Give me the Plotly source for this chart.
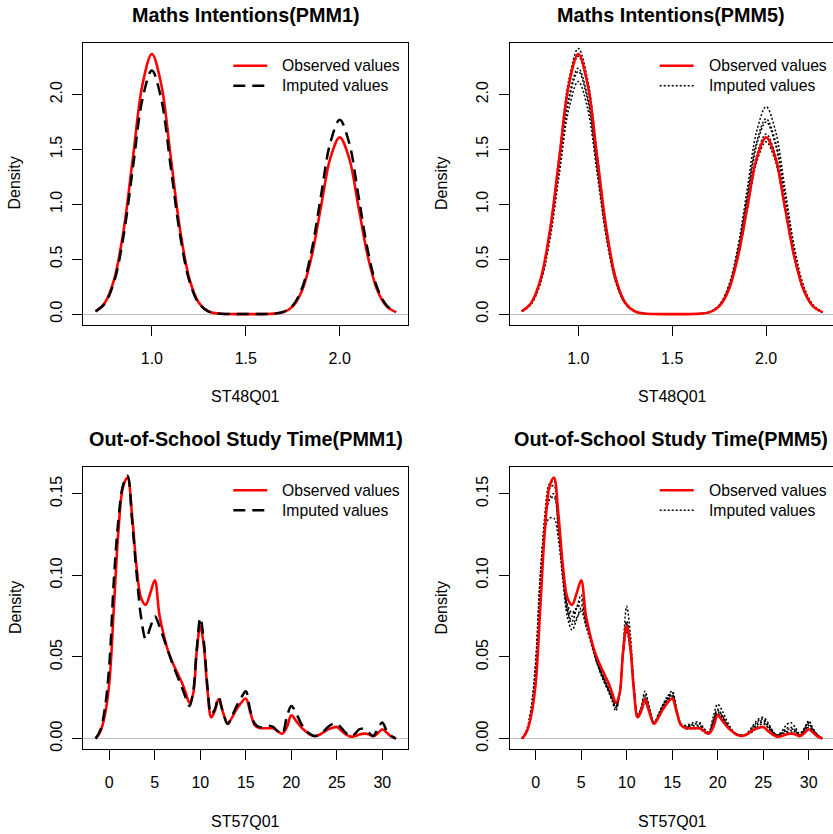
import plotly.graph_objects as go

W, H = 833, 834

# ---------------- ST48Q01 (Maths Intentions) ----------------
st48_x = [0.70, 0.75, 0.80, 0.85, 0.90, 0.95, 1.00, 1.05, 1.10, 1.15, 1.20,
          1.25, 1.30, 1.35, 1.40, 1.45, 1.50, 1.55, 1.60, 1.65, 1.70, 1.75,
          1.80, 1.85, 1.90, 1.95, 2.00, 2.05, 2.10, 2.15, 2.20, 2.25, 2.30]

st48_observed = [0.026, 0.104, 0.321, 0.770, 1.437, 2.092, 2.370, 2.092, 1.437, 0.770, 0.321,
                 0.104, 0.026, 0.005, 0.001, 0.000, 0.000, 0.000, 0.000, 0.004, 0.018, 0.071,
                 0.218, 0.523, 0.976, 1.421, 1.610, 1.421, 0.976, 0.523, 0.218, 0.071, 0.018]

st48_pmm1 = [0.025, 0.097, 0.300, 0.721, 1.346, 1.959, 2.220, 1.959, 1.346, 0.721, 0.300,
             0.097, 0.025, 0.005, 0.001, 0.000, 0.000, 0.000, 0.001, 0.004, 0.020, 0.078,
             0.239, 0.575, 1.074, 1.562, 1.770, 1.562, 1.074, 0.575, 0.239, 0.078, 0.020]

st48_pmm5 = [
    [0.027, 0.106, 0.327, 0.786, 1.468, 2.136, 2.420, 2.136, 1.468, 0.786, 0.327,
     0.106, 0.027, 0.005, 0.001, 0.000, 0.000, 0.000, 0.000, 0.003, 0.017, 0.069,
     0.212, 0.510, 0.952, 1.386, 1.570, 1.386, 0.952, 0.510, 0.212, 0.069, 0.017],
    [0.025, 0.098, 0.303, 0.727, 1.359, 1.977, 2.240, 1.977, 1.359, 0.727, 0.303,
     0.098, 0.025, 0.005, 0.001, 0.000, 0.000, 0.000, 0.001, 0.004, 0.019, 0.077,
     0.237, 0.568, 1.061, 1.544, 1.750, 1.544, 1.061, 0.568, 0.237, 0.077, 0.019],
    [0.024, 0.093, 0.287, 0.688, 1.286, 1.871, 2.120, 1.871, 1.286, 0.688, 0.287,
     0.093, 0.024, 0.005, 0.001, 0.000, 0.000, 0.000, 0.001, 0.004, 0.021, 0.083,
     0.256, 0.614, 1.146, 1.668, 1.890, 1.668, 1.146, 0.614, 0.256, 0.083, 0.021],
    [0.025, 0.097, 0.299, 0.718, 1.340, 1.950, 2.210, 1.950, 1.340, 0.718, 0.299,
     0.097, 0.025, 0.005, 0.001, 0.000, 0.000, 0.000, 0.001, 0.004, 0.020, 0.078,
     0.241, 0.578, 1.080, 1.571, 1.780, 1.571, 1.080, 0.578, 0.241, 0.078, 0.020],
    [0.026, 0.103, 0.318, 0.763, 1.425, 2.074, 2.350, 2.074, 1.425, 0.763, 0.318,
     0.103, 0.026, 0.005, 0.001, 0.000, 0.000, 0.000, 0.000, 0.004, 0.018, 0.072,
     0.222, 0.533, 0.995, 1.447, 1.640, 1.447, 0.995, 0.533, 0.222, 0.072, 0.018],
]

# ---------------- ST57Q01 (Out-of-School Study Time) ----------------
st57_x = [-1.5, -1.0, -0.5, 0.0, 0.5, 1.0, 1.5, 2.0, 2.5, 3.0,
          3.5, 4.0, 4.5, 5.0, 5.5, 6.0, 6.5, 7.0, 7.5, 8.0,
          8.4, 8.8, 9.2, 9.6, 10.0, 10.4, 10.8, 11.2, 11.6, 12.0,
          12.5, 13.0, 13.5, 14.0, 14.5, 15.0, 15.5, 16.0, 16.5, 17.0,
          17.5, 18.0, 18.5, 19.0, 19.5, 20.0, 20.5, 21.0, 21.5, 22.0,
          22.5, 23.0, 23.5, 24.0, 24.5, 25.0, 25.5, 26.0, 26.5, 27.0,
          27.5, 28.0, 28.5, 29.0, 29.5, 30.0, 30.5, 31.0, 31.5]

st57_observed = [0.000, 0.004, 0.014, 0.034, 0.080, 0.127, 0.154, 0.160, 0.137, 0.105,
                 0.086, 0.082, 0.089, 0.097, 0.076, 0.063, 0.053, 0.046, 0.040, 0.034,
                 0.028, 0.022, 0.027, 0.053, 0.069, 0.056, 0.029, 0.013, 0.017, 0.024,
                 0.016, 0.009, 0.013, 0.018, 0.022, 0.0245, 0.016, 0.008, 0.0065, 0.0063,
                 0.0063, 0.0063, 0.0045, 0.003, 0.0068, 0.0142, 0.011, 0.0075, 0.0048, 0.0025,
                 0.0016, 0.002, 0.0037, 0.0055, 0.0065, 0.0071, 0.0048, 0.0025, 0.0012, 0.0015,
                 0.0025, 0.003, 0.0027, 0.0015, 0.0032, 0.0057, 0.0035, 0.0012, 0.000]

st57_pmm1 = [0.000, 0.005, 0.018, 0.045, 0.097, 0.134, 0.155, 0.161, 0.134, 0.101,
             0.074, 0.061, 0.068, 0.075, 0.069, 0.061, 0.053, 0.045, 0.038, 0.031,
             0.025, 0.020, 0.028, 0.054, 0.074, 0.059, 0.031, 0.015, 0.018, 0.0255,
             0.016, 0.009, 0.014, 0.020, 0.025, 0.029, 0.017, 0.009, 0.007, 0.0075,
             0.0078, 0.0071, 0.0045, 0.003, 0.013, 0.020, 0.016, 0.010, 0.0055, 0.003,
             0.0016, 0.002, 0.004, 0.007, 0.0088, 0.0092, 0.0065, 0.0035, 0.0015, 0.003,
             0.0058, 0.0058, 0.0037, 0.0015, 0.006, 0.0098, 0.0045, 0.0015, 0.000]

st57_pmm5 = [
    [0.000, 0.005, 0.018, 0.045, 0.098, 0.132, 0.146, 0.148, 0.126, 0.096,
     0.074, 0.0665, 0.073, 0.080, 0.070, 0.060, 0.050, 0.042, 0.035, 0.029,
     0.023, 0.017, 0.026, 0.056, 0.081, 0.064, 0.033, 0.015, 0.019, 0.029,
     0.019, 0.010, 0.015, 0.021, 0.026, 0.029, 0.018, 0.009, 0.008, 0.009,
     0.010, 0.010, 0.006, 0.004, 0.013, 0.021, 0.017, 0.011, 0.006, 0.003,
     0.002, 0.002, 0.005, 0.009, 0.012, 0.013, 0.010, 0.005, 0.002, 0.004,
     0.008, 0.0098, 0.007, 0.003, 0.006, 0.0108, 0.006, 0.002, 0.000],
    [0.000, 0.005, 0.019, 0.048, 0.100, 0.128, 0.135, 0.135, 0.122, 0.099,
     0.080, 0.075, 0.080, 0.085, 0.072, 0.062, 0.052, 0.043, 0.036, 0.030,
     0.025, 0.020, 0.027, 0.052, 0.068, 0.055, 0.030, 0.014, 0.018, 0.025,
     0.017, 0.009, 0.014, 0.020, 0.024, 0.027, 0.017, 0.008, 0.007, 0.008,
     0.008, 0.008, 0.005, 0.003, 0.010, 0.017, 0.014, 0.009, 0.005, 0.003,
     0.002, 0.002, 0.004, 0.007, 0.010, 0.011, 0.008, 0.004, 0.002, 0.003,
     0.005, 0.006, 0.005, 0.002, 0.005, 0.009, 0.005, 0.002, 0.000],
    [0.000, 0.004, 0.016, 0.042, 0.093, 0.135, 0.153, 0.155, 0.132, 0.100,
     0.078, 0.072, 0.080, 0.088, 0.074, 0.062, 0.051, 0.043, 0.037, 0.031,
     0.026, 0.021, 0.027, 0.053, 0.070, 0.056, 0.030, 0.013, 0.016, 0.022,
     0.016, 0.009, 0.014, 0.020, 0.024, 0.026, 0.016, 0.008, 0.007, 0.007,
     0.007, 0.007, 0.005, 0.003, 0.009, 0.015, 0.012, 0.008, 0.005, 0.003,
     0.002, 0.002, 0.004, 0.006, 0.009, 0.010, 0.007, 0.004, 0.002, 0.003,
     0.004, 0.005, 0.004, 0.002, 0.004, 0.008, 0.005, 0.002, 0.000],
    [0.000, 0.005, 0.017, 0.044, 0.096, 0.131, 0.147, 0.150, 0.130, 0.101,
     0.082, 0.077, 0.080, 0.082, 0.071, 0.061, 0.051, 0.042, 0.035, 0.029,
     0.024, 0.019, 0.026, 0.051, 0.066, 0.053, 0.029, 0.014, 0.019, 0.027,
     0.018, 0.010, 0.014, 0.019, 0.023, 0.025, 0.016, 0.008, 0.007, 0.008,
     0.009, 0.009, 0.006, 0.003, 0.011, 0.018, 0.014, 0.009, 0.005, 0.003,
     0.002, 0.002, 0.004, 0.008, 0.011, 0.012, 0.009, 0.005, 0.002, 0.003,
     0.006, 0.007, 0.005, 0.002, 0.006, 0.010, 0.005, 0.002, 0.000],
    [0.000, 0.004, 0.015, 0.040, 0.090, 0.136, 0.156, 0.158, 0.135, 0.103,
     0.078, 0.070, 0.074, 0.078, 0.070, 0.061, 0.052, 0.044, 0.037, 0.030,
     0.024, 0.019, 0.027, 0.055, 0.072, 0.058, 0.031, 0.014, 0.017, 0.024,
     0.016, 0.009, 0.015, 0.021, 0.025, 0.028, 0.017, 0.008, 0.006, 0.006,
     0.006, 0.006, 0.004, 0.003, 0.009, 0.016, 0.013, 0.008, 0.005, 0.003,
     0.002, 0.002, 0.003, 0.005, 0.008, 0.009, 0.007, 0.004, 0.002, 0.002,
     0.003, 0.004, 0.003, 0.002, 0.004, 0.007, 0.004, 0.002, 0.000],
]

titles = ["Maths Intentions(PMM1)", "Maths Intentions(PMM5)",
          "Out-of-School Study Time(PMM1)", "Out-of-School Study Time(PMM5)"]
xlabels = ["ST48Q01", "ST48Q01", "ST57Q01", "ST57Q01"]
legend_labels = ["Observed values", "Imputed values"]

st48_ticks = [1.0, 1.5, 2.0]
st48_yticks = [0.0, 0.5, 1.0, 1.5, 2.0]
st57_ticks = [0, 5, 10, 15, 20, 25, 30]
st57_yticks = [0.00, 0.05, 0.10, 0.15]

FONT = "Liberation Sans, Arial, Helvetica, sans-serif"
RED = "#ff0000"
DASHED = "12px,7px"
DOTTED = "2px,2px"

# ---------------- panel geometry (pixels) ----------------
COL_LEFT = [83.3, 509.7]
ROW_TOP = [42.7, 468.7]
BOX_W, BOX_H = 325.0, 283.0


def px_x(p):
    return p / W


def px_y(p):
    return 1 - p / H


fig = go.Figure()

panels = [
    dict(x=st48_x, obs=st48_observed, imps=[st48_pmm1], dash=DASHED, width=2.5,
         xr=(0.635, 2.365), yr=(-0.095, 2.474), xt=st48_ticks, yt=st48_yticks,
         xfmt=".1f", yfmt=".1f"),
    dict(x=st48_x, obs=st48_observed, imps=st48_pmm5, dash=DOTTED, width=1.5,
         xr=(0.635, 2.365), yr=(-0.095, 2.474), xt=st48_ticks, yt=st48_yticks,
         xfmt=".1f", yfmt=".1f"),
    dict(x=st57_x, obs=st57_observed, imps=[st57_pmm1], dash=DASHED, width=2.5,
         xr=(-2.857, 32.857), yr=(-0.0064, 0.1664), xt=st57_ticks, yt=st57_yticks,
         xfmt="d", yfmt=".2f"),
    dict(x=st57_x, obs=st57_observed, imps=st57_pmm5, dash=DOTTED, width=1.5,
         xr=(-2.857, 32.857), yr=(-0.0064, 0.1664), xt=st57_ticks, yt=st57_yticks,
         xfmt="d", yfmt=".2f"),
]

layout = dict(
    width=W, height=H, margin=dict(l=0, r=0, t=0, b=0),
    paper_bgcolor="white", plot_bgcolor="white",
    font=dict(family=FONT, size=16, color="black"),
    showlegend=False,
    annotations=[], shapes=[],
)

for i, p in enumerate(panels):
    row, col = divmod(i, 2)
    n = "" if i == 0 else str(i + 1)
    xa, ya = "x" + n, "y" + n

    left = COL_LEFT[col]
    top = ROW_TOP[row]
    right = min(left + BOX_W, W)
    bottom = top + BOX_H
    # keep the same data-per-pixel scale when the frame runs past the page edge
    x0, x1 = p["xr"]
    x1 = x0 + (x1 - x0) * (right - left) / BOX_W
    clipped = right < left + BOX_W

    obs_trace = go.Scatter(
        x=p["x"], y=p["obs"], mode="lines", name=legend_labels[0],
        line=dict(color=RED, width=2.6, shape="spline"),
        xaxis=xa, yaxis=ya, hoverinfo="skip",
    )
    imp_traces = [
        go.Scatter(
            x=p["x"], y=ys, mode="lines", name=legend_labels[1],
            line=dict(color="black", width=p["width"], dash=p["dash"], shape="spline"),
            xaxis=xa, yaxis=ya, hoverinfo="skip",
        )
        for ys in p["imps"]
    ]
    if len(p["imps"]) == 1:
        fig.add_trace(obs_trace)
        for t in imp_traces:
            fig.add_trace(t)
    else:
        for t in imp_traces:
            fig.add_trace(t)
        fig.add_trace(obs_trace)

    axis_common = dict(
        showgrid=False, ticks="outside", ticklen=10, tickwidth=1, tickcolor="black",
        showline=True, linecolor="black", linewidth=1,
        tickfont=dict(family=FONT, size=16, color="black"),
        fixedrange=True,
    )
    layout["xaxis" + n] = dict(
        axis_common, domain=[px_x(left), px_x(right)], range=[x0, x1],
        anchor=ya, tickvals=p["xt"], tickformat=p["xfmt"],
        zeroline=False, mirror=True, ticklabelstandoff=9,
    )
    layout["yaxis" + n] = dict(
        axis_common, domain=[px_y(bottom), px_y(top)], range=list(p["yr"]),
        anchor=xa, tickvals=p["yt"], tickformat=p["yfmt"], tickangle=-90,
        zeroline=True, zerolinecolor="#bebebe", zerolinewidth=1,
        mirror=(not clipped), ticklabelstandoff=4,
    )

    # legend key (top right, no frame)
    key_styles = [
        dict(color=RED, width=2.6),
        dict(color="black", width=p["width"], dash=p["dash"]),
    ]
    for k, (lab, st) in enumerate(zip(legend_labels, key_styles)):
        ky = top + 23.3 + 20 * k
        layout["shapes"].append(dict(
            type="line", xref="paper", yref="paper",
            x0=px_x(left + 150), x1=px_x(left + 184), y0=px_y(ky), y1=px_y(ky),
            line=st,
        ))
        layout["annotations"].append(dict(
            text=lab, x=px_x(left + 197), y=px_y(ky), xref="paper", yref="paper",
            xanchor="left", yanchor="middle", showarrow=False,
            font=dict(family=FONT, size=15.7, color="black"),
        ))

    cx = left + BOX_W / 2 - (1.5 if col == 1 else 0)
    layout["annotations"] += [
        dict(text="<b>" + titles[i] + "</b>", x=px_x(cx), y=px_y(top - 27.7),
             xref="paper", yref="paper", xanchor="center", yanchor="middle",
             showarrow=False, font=dict(family=FONT, size=19.8, color="black")),
        dict(text=xlabels[i], x=px_x(left + BOX_W / 2), y=px_y(top + 355.6),
             xref="paper", yref="paper", xanchor="center", yanchor="middle",
             showarrow=False, font=dict(family=FONT, size=16, color="black")),
        dict(text="Density", x=px_x(left - 68.3), y=px_y(top + BOX_H / 2),
             xref="paper", yref="paper", xanchor="center", yanchor="middle",
             textangle=-90, showarrow=False, font=dict(family=FONT, size=16, color="black")),
    ]

fig.update_layout(**layout)
fig.write_html("out.html")
